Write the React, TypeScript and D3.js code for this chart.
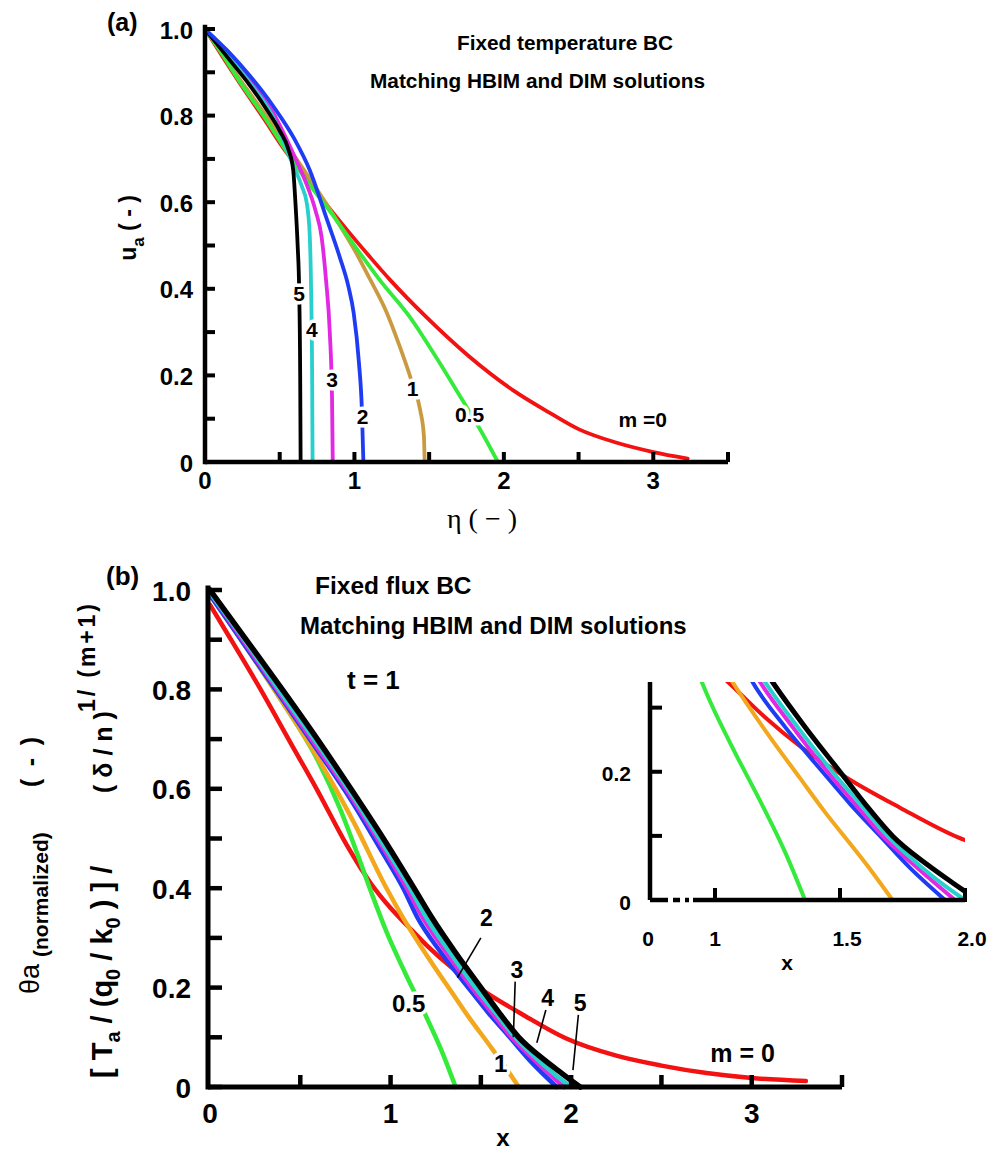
import React from "react";
import * as d3 from "d3";

type Pt = [number, number];

// ---------- Panel (a): fixed temperature BC, u_a vs eta ----------
const tempM0: Pt[] = [[0, 1], [0.12, 0.935], [0.25, 0.866], [0.4, 0.79], [0.52, 0.727], [0.64, 0.672], [0.8, 0.6], [0.95, 0.536], [1.1, 0.475], [1.24, 0.42], [1.48, 0.335], [1.77, 0.243], [2.06, 0.166], [2.31, 0.113], [2.5, 0.076], [2.75, 0.045], [3.0, 0.023], [3.23, 0.008]];
const tempM05: Pt[] = [[0, 1], [0.1, 0.95], [0.21, 0.89], [0.41, 0.79], [0.55, 0.715], [0.68, 0.65], [0.86, 0.568], [1.0, 0.5], [1.17, 0.42], [1.37, 0.335], [1.55, 0.24], [1.71, 0.15], [1.85, 0.07], [1.96, 0]];
const tempM1: Pt[] = [[0, 1], [0.2, 0.9], [0.45, 0.78], [0.7, 0.655], [0.86, 0.57], [1.0, 0.49], [1.1, 0.425], [1.21, 0.35], [1.3, 0.27], [1.38, 0.19], [1.44, 0.12], [1.465, 0.06], [1.47, 0]];
const tempM2: Pt[] = [[0, 1], [0.15, 0.95], [0.3, 0.892], [0.45, 0.825], [0.6, 0.745], [0.7, 0.675], [0.81, 0.566], [0.9, 0.475], [0.96, 0.405], [0.995, 0.344], [1.03, 0.23], [1.05, 0.12], [1.06, 0]];
const tempM3: Pt[] = [[0, 1], [0.15, 0.942], [0.3, 0.88], [0.45, 0.81], [0.6, 0.705], [0.67, 0.65], [0.74, 0.58], [0.78, 0.52], [0.81, 0.42], [0.835, 0.3], [0.85, 0.15], [0.855, 0]];
const tempM4: Pt[] = [[0, 1], [0.15, 0.94], [0.3, 0.875], [0.45, 0.8], [0.59, 0.685], [0.65, 0.635], [0.68, 0.6], [0.7, 0.53], [0.71, 0.4], [0.717, 0.2], [0.72, 0]];
const tempM5: Pt[] = [[0, 1], [0.15, 0.935], [0.3, 0.87], [0.42, 0.81], [0.5, 0.765], [0.56, 0.72], [0.59, 0.675], [0.605, 0.6], [0.62, 0.5], [0.63, 0.4], [0.637, 0.2], [0.64, 0]];

// ---------- Panel (b): fixed flux BC, normalized theta_a vs x ----------
const fluxM0: Pt[] = [[0, 0.97], [0.1, 0.91], [0.28, 0.8], [0.45, 0.69], [0.59, 0.6], [0.76, 0.485], [0.89, 0.41], [1.0, 0.36], [1.1, 0.322], [1.2, 0.285], [1.35, 0.237], [1.53, 0.19], [1.74, 0.144], [1.97, 0.098], [2.25, 0.063], [2.5, 0.043], [2.75, 0.028], [3.0, 0.018], [3.3, 0.012]];
const fluxM05: Pt[] = [[0, 0.99], [0.2, 0.885], [0.4, 0.775], [0.6, 0.655], [0.72, 0.56], [0.82, 0.465], [0.9, 0.385], [0.98, 0.31], [1.08, 0.23], [1.18, 0.155], [1.28, 0.075], [1.36, 0]];
const fluxM1: Pt[] = [[0, 0.99], [0.2, 0.885], [0.4, 0.775], [0.6, 0.66], [0.8, 0.53], [0.97, 0.405], [1.07, 0.34], [1.2, 0.265], [1.34, 0.19], [1.44, 0.137], [1.54, 0.088], [1.63, 0.043], [1.71, 0]];
const fluxM2: Pt[] = [[0, 0.99], [0.2, 0.885], [0.4, 0.78], [0.6, 0.675], [0.78, 0.578], [0.95, 0.475], [1.07, 0.4], [1.15, 0.34], [1.28, 0.27], [1.43, 0.2], [1.54, 0.15], [1.66, 0.1], [1.78, 0.05], [1.92, 0]];
const fluxM3: Pt[] = [[0, 0.995], [0.2, 0.89], [0.4, 0.785], [0.6, 0.68], [0.78, 0.585], [0.96, 0.48], [1.09, 0.4], [1.18, 0.34], [1.31, 0.27], [1.45, 0.2], [1.56, 0.15], [1.67, 0.1], [1.81, 0.05], [1.96, 0]];
const fluxM4: Pt[] = [[0, 0.995], [0.2, 0.895], [0.4, 0.79], [0.6, 0.688], [0.78, 0.592], [0.96, 0.488], [1.1, 0.405], [1.2, 0.34], [1.33, 0.27], [1.47, 0.2], [1.58, 0.15], [1.69, 0.1], [1.83, 0.05], [1.92, 0.022], [2.0, 0]];
const fluxM5: Pt[] = [[0, 1], [0.2, 0.9], [0.4, 0.8], [0.6, 0.697], [0.78, 0.6], [0.96, 0.5], [1.13, 0.4], [1.23, 0.34], [1.36, 0.27], [1.5, 0.2], [1.6, 0.15], [1.71, 0.1], [1.85, 0.055], [1.95, 0.027], [2.05, 0]];

// Curve labels: [text, x, y]
const tempLabels: [string, number, number][] = [["5", 0.63, 0.39], ["4", 0.715, 0.305], ["3", 0.85, 0.19], ["2", 1.055, 0.105], ["1", 1.39, 0.17], ["0.5", 1.77, 0.11]];
const fluxLabels: [string, number, number][] = [["0.5", 1.1, 0.169], ["1", 1.61, 0.048]];
// Labels with leader lines: [text, labelX, labelY, fromX, fromY, toX, toY]
const fluxLeaders: [string, number, number, number, number, number, number][] = [
  ["2", 1.53, 0.34, 1.5, 0.3, 1.37, 0.22],
  ["3", 1.7, 0.235, 1.69, 0.212, 1.68, 0.1],
  ["4", 1.87, 0.18, 1.86, 0.155, 1.81, 0.089],
  ["5", 2.05, 0.17, 2.04, 0.145, 2.01, 0.034],
];

const xTicksA = [0.5, 1, 1.5, 2, 2.5, 3, 3.5];
const xTickLabelsA = [0, 1, 2, 3];
const xTicksB = [0.5, 1, 1.5, 2, 2.5, 3, 3.5];
const xTickLabelsB = [0, 1, 2, 3];
const yTickLabels = [0, 0.2, 0.4, 0.6, 0.8, 1.0];
const insetXTicks = [1, 1.5, 2];
const insetXTickLabels = ["1", "1.5", "2.0"];
const insetYTicks = [0.1, 0.2, 0.3];
const insetYTickLabels = [0, 0.2];

const RED = "#f21212";
const GREEN = "#34ea3a";
const BROWN_A = "#c99a40";
const ORANGE_B = "#f2a71c";
const BLUE = "#1f3cf5";
const MAGENTA = "#e228e2";
const CYAN = "#27d0cc";
const BLACK = "#000";

const FONT = "'Liberation Sans', Arial, Helvetica, sans-serif";
const fmt = (v: number) => (v === 0 ? "0" : d3.format(".1f")(v));

export default function App() {
  // scales
  const xA = d3.scaleLinear().domain([0, 3.5]).range([205, 728]);
  const yA = d3.scaleLinear().domain([0, 1]).range([462, 29]);
  const xB = d3.scaleLinear().domain([0, 3.5]).range([210, 842]);
  const yB = d3.scaleLinear().domain([0, 1]).range([1087, 590]);
  const xI = d3.scaleLinear().domain([0.74, 2.0]).range([650, 965]);
  const yI = d3.scaleLinear().domain([0, 0.34]).range([900, 682]);

  const mk = (xs: d3.ScaleLinear<number, number>, ys: d3.ScaleLinear<number, number>) =>
    d3.line<Pt>().x((d) => xs(d[0])).y((d) => ys(d[1])).curve(d3.curveMonotoneX);
  const lineA = mk(xA, yA);
  const lineB = mk(xB, yB);
  const lineI = mk(xI, yI);

  const seriesA: [Pt[], string, number][] = [
    [tempM0, RED, 3.8], [tempM1, BROWN_A, 3.8], [tempM05, GREEN, 3.8], [tempM3, MAGENTA, 3.8],
    [tempM4, CYAN, 3.8], [tempM5, BLACK, 3.8], [tempM2, BLUE, 3.8],
  ];
  const seriesB: [Pt[], string, number][] = [
    [fluxM0, RED, 4.5], [fluxM05, GREEN, 4.5], [fluxM1, ORANGE_B, 4.5], [fluxM2, BLUE, 4.5],
    [fluxM3, MAGENTA, 4.5], [fluxM4, CYAN, 4.5], [fluxM5, BLACK, 5.5],
  ];

  const halo = { paintOrder: "stroke" as const, stroke: "#fff", strokeWidth: 7, strokeLinejoin: "round" as const };

  const yTicksA = yA.ticks(10);
  const yTicksB = yB.ticks(10);

  return (
    <svg width={1002} height={1153} viewBox="0 0 1002 1153" style={{ position: "absolute", left: 0, top: 0, background: "#fff" }} fontFamily={FONT}>
      <rect x={0} y={0} width={1002} height={1153} fill="#fff" />

      {/* ================= Panel (a) ================= */}
      <text x={107} y={31} fontSize={25} fontWeight="bold">(a)</text>
      <text x={457} y={50} fontSize={20.8} fontWeight="bold">Fixed temperature BC</text>
      <text x={370} y={88} fontSize={20.8} fontWeight="bold">Matching HBIM and DIM solutions</text>

      {seriesA.map(([d, c, w], i) => (
        <path key={i} d={lineA(d) || ""} fill="none" stroke={c} strokeWidth={w} strokeLinejoin="round" strokeLinecap="round" />
      ))}
      {tempLabels.map(([t, x, y], i) => (
        <text key={i} x={xA(x)} y={yA(y)} fontSize={21} fontWeight="bold" textAnchor="middle" dominantBaseline="central" style={halo}>{t}</text>
      ))}
      <text x={xA(2.93)} y={yA(0.097)} fontSize={21} fontWeight="bold" textAnchor="middle" dominantBaseline="central">m =0</text>

      {/* axes (a) */}
      <line x1={xA(0)} x2={xA(0)} y1={yA(0)} y2={yA(1) - 2} stroke="#000" strokeWidth={4.5} strokeLinecap="square" />
      <line x1={xA(0)} x2={xA(3.5)} y1={yA(0)} y2={yA(0)} stroke="#000" strokeWidth={4.5} />
      {yTicksA.map((v) => (
        <line key={v} x1={xA(0)} x2={xA(0) + 10} y1={yA(v)} y2={yA(v)} stroke="#000" strokeWidth={4} />
      ))}
      {xTicksA.map((v) => (
        <line key={v} x1={xA(v)} x2={xA(v)} y1={yA(0)} y2={yA(0) - 10} stroke="#000" strokeWidth={4} />
      ))}
      {yTickLabels.map((v) => (
        <text key={v} x={193} y={yA(v) + 1} fontSize={24} fontWeight="bold" textAnchor="end" dominantBaseline="central">{fmt(v)}</text>
      ))}
      {xTickLabelsA.map((v) => (
        <text key={v} x={xA(v)} y={489} fontSize={24} fontWeight="bold" textAnchor="middle">{v}</text>
      ))}
      <text transform="translate(136,228) rotate(-90)" fontSize={23} fontWeight="bold" textAnchor="middle">
        u<tspan fontSize={17} dy={8}>a</tspan><tspan dy={-8}> ( - )</tspan>
      </text>
      <text x={482} y={528} fontSize={28} fontFamily="'Liberation Serif', 'Times New Roman', serif" textAnchor="middle">η ( − )</text>

      {/* ================= Panel (b) ================= */}
      <text x={106} y={585} fontSize={26} fontWeight="bold">(b)</text>
      <text x={315} y={594} fontSize={24.5} fontWeight="bold">Fixed flux BC</text>
      <text x={300} y={634} fontSize={24} fontWeight="bold">Matching HBIM and DIM solutions</text>
      <text x={347} y={689} fontSize={26} fontWeight="bold">t = 1</text>

      {seriesB.map(([d, c, w], i) => (
        <path key={i} d={lineB(d) || ""} fill="none" stroke={c} strokeWidth={w} strokeLinejoin="round" strokeLinecap="round" />
      ))}
      {fluxLabels.map(([t, x, y], i) => (
        <text key={i} x={xB(x)} y={yB(y)} fontSize={24} fontWeight="bold" textAnchor="middle" dominantBaseline="central" style={halo}>{t}</text>
      ))}
      {fluxLeaders.map(([t, lx, ly, fx, fy, tx, ty], i) => (
        <g key={i}>
          <line x1={xB(fx)} y1={yB(fy)} x2={xB(tx)} y2={yB(ty)} stroke="#000" strokeWidth={1.6} />
          <text x={xB(lx)} y={yB(ly)} fontSize={23} fontWeight="bold" textAnchor="middle" dominantBaseline="central">{t}</text>
        </g>
      ))}
      <text x={xB(2.95)} y={yB(0.068)} fontSize={25} fontWeight="bold" textAnchor="middle" dominantBaseline="central">m = 0</text>

      {/* axes (b) */}
      <line x1={xB(0) - 2} x2={xB(0) - 2} y1={yB(0)} y2={yB(1) - 2} stroke="#000" strokeWidth={5} strokeLinecap="square" />
      <line x1={xB(0) - 2} x2={xB(3.5)} y1={yB(0)} y2={yB(0)} stroke="#000" strokeWidth={5} />
      {yTicksB.map((v) => (
        <line key={v} x1={xB(0)} x2={xB(0) + 12} y1={yB(v)} y2={yB(v)} stroke="#000" strokeWidth={4.5} />
      ))}
      {xTicksB.map((v) => (
        <line key={v} x1={xB(v)} x2={xB(v)} y1={yB(0)} y2={yB(0) - 12} stroke="#000" strokeWidth={4.5} />
      ))}
      {yTickLabels.map((v) => (
        <text key={v} x={191} y={yB(v) + 1} fontSize={28} fontWeight="bold" textAnchor="end" dominantBaseline="central">{fmt(v)}</text>
      ))}
      {xTickLabelsB.map((v) => (
        <text key={v} x={xB(v)} y={1123} fontSize={28} fontWeight="bold" textAnchor="middle">{v}</text>
      ))}
      <text x={503} y={1146} fontSize={24} fontWeight="bold" textAnchor="middle">x</text>

      {/* y-axis titles (b) */}
      <text transform="translate(39,994) rotate(-90)" fontSize={27}>
        θa
        <tspan x={37} fontSize={21} fontWeight="bold" dy={9}>(normalized)</tspan>
        <tspan x={207} fontSize={25} fontWeight="bold" dy={-9} textLength={50} lengthAdjust="spacing">( - )</tspan>
      </text>
      <text transform="translate(112,1078) rotate(-90)" fontSize={29} fontWeight="bold">
        [ T<tspan fontSize={20} dy={8}>a</tspan>
        <tspan dy={-8}>{" / (q"}</tspan><tspan fontSize={20} dy={8}>0</tspan>
        <tspan dy={-8}>{" / k"}</tspan><tspan fontSize={20} dy={8}>0</tspan>
        <tspan dy={-8}>{" ) ] /"}</tspan>
        <tspan x={285} fontSize={25}>( δ / n )</tspan>
        <tspan x={366} fontSize={23} dy={-17} textLength={108} lengthAdjust="spacing">1/ (m+1)</tspan>
      </text>

      {/* ================= Inset ================= */}
      <defs>
        <clipPath id="insetClip">
          <rect x={xI.range()[0]} y={yI.range()[1]} width={xI.range()[1] - xI.range()[0]} height={yI.range()[0] - yI.range()[1]} />
        </clipPath>
      </defs>
      <g clipPath="url(#insetClip)">
        {seriesB.map(([d, c, w], i) => (
          <path key={i} d={lineI(d) || ""} fill="none" stroke={c} strokeWidth={w - 0.5} strokeLinejoin="round" strokeLinecap="round" />
        ))}
      </g>
      <line x1={xI.range()[0]} x2={xI.range()[0]} y1={yI(0)} y2={yI.range()[1]} stroke="#000" strokeWidth={4.5} />
      {/* broken x axis */}
      <line x1={xI.range()[0]} x2={668} y1={yI(0)} y2={yI(0)} stroke="#000" strokeWidth={4.5} />
      <line x1={673} x2={680} y1={yI(0)} y2={yI(0)} stroke="#000" strokeWidth={4.5} />
      <line x1={685} x2={689} y1={yI(0)} y2={yI(0)} stroke="#000" strokeWidth={4.5} />
      <line x1={693} x2={xI(2)} y1={yI(0)} y2={yI(0)} stroke="#000" strokeWidth={4.5} />
      {insetYTicks.map((v) => (
        <line key={v} x1={xI.range()[0]} x2={xI.range()[0] + 12} y1={yI(v)} y2={yI(v)} stroke="#000" strokeWidth={4} />
      ))}
      {insetXTicks.map((v) => (
        <line key={v} x1={xI(v)} x2={xI(v)} y1={yI(0) + 2} y2={yI(0) - 12} stroke="#000" strokeWidth={4} />
      ))}
      {insetYTickLabels.map((v) => (
        <text key={v} x={631} y={yI(v) + 2} fontSize={21} fontWeight="bold" textAnchor="end" dominantBaseline="central">{fmt(v)}</text>
      ))}
      <text x={xI.range()[0] - 2} y={946} fontSize={21} fontWeight="bold" textAnchor="middle">0</text>
      {insetXTicks.map((v, i) => (
        <text key={v} x={xI(v) + (i > 0 ? 7 : 0)} y={946} fontSize={21} fontWeight="bold" textAnchor="middle">{insetXTickLabels[i]}</text>
      ))}
      <text x={787} y={970} fontSize={21} fontWeight="bold" textAnchor="middle">x</text>
    </svg>
  );
}
